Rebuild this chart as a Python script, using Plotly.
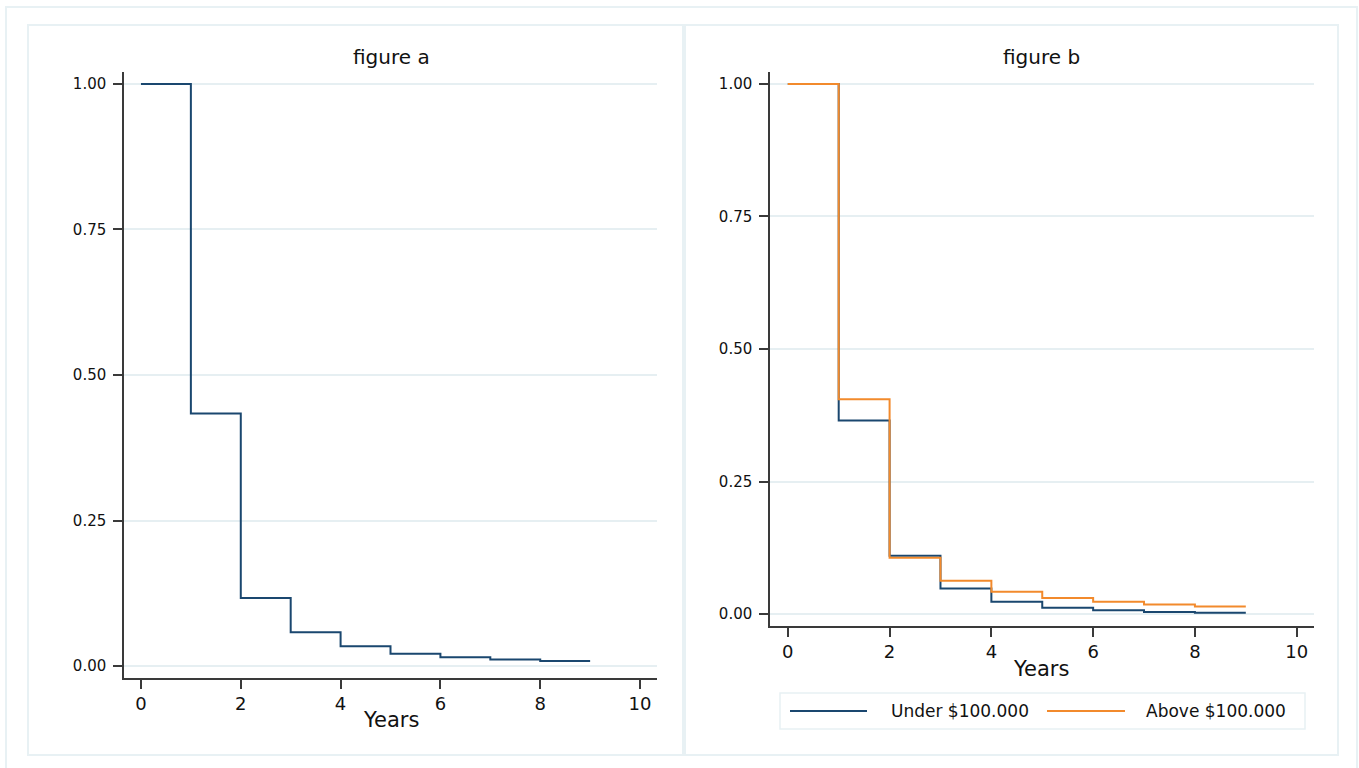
import plotly.graph_objects as go

# ---- data ----
years = [0, 1, 2, 3, 4, 5, 6, 7, 8, 9]
surv_all = [1.00, 0.434, 0.117, 0.058, 0.034, 0.021, 0.015, 0.011, 0.0086, 0.0086]
surv_under = [1.00, 0.365, 0.110, 0.048, 0.023, 0.012, 0.007, 0.004, 0.0025, 0.0025]
surv_above = [1.00, 0.405, 0.106, 0.063, 0.042, 0.030, 0.023, 0.018, 0.014, 0.014]
series_names = ["Under $100.000", "Above $100.000"]
panel_titles = ["figure a", "figure b"]
x_title = "Years"
x_ticks = [0, 2, 4, 6, 8, 10]
y_ticks = [0.0, 0.25, 0.5, 0.75, 1.0]
y_tick_text = ["0.00", "0.25", "0.50", "0.75", "1.00"]

W, H = 1359, 768
NAVY = "#1a476f"
ORANGE = "#f28a2c"
GRID = "#e6eff2"
FRAME = "#e8f1f4"
AXC = "#3a3a3a"
FONT = "DejaVu Sans, Liberation Sans, Arial, sans-serif"
TXT = "#111"


def fx(p):
    return p / W


def fy(p):
    return 1 - p / H


fig = go.Figure()
fig.add_trace(go.Scatter(x=years, y=surv_all, mode="lines", line=dict(color=NAVY, width=2, shape="hv"),
                         xaxis="x", yaxis="y", showlegend=False))
fig.add_trace(go.Scatter(x=years, y=surv_under, mode="lines", line=dict(color=NAVY, width=2, shape="hv"),
                         name=series_names[0], xaxis="x2", yaxis="y2", showlegend=False))
fig.add_trace(go.Scatter(x=years, y=surv_above, mode="lines", line=dict(color=ORANGE, width=2, shape="hv"),
                         name=series_names[1], xaxis="x2", yaxis="y2", showlegend=False))

common_x = dict(showline=True, linecolor=AXC, linewidth=1.5, ticks="outside", ticklen=9, tickcolor=AXC,
                tickwidth=1.5, showgrid=False, zeroline=False, tickvals=x_ticks,
                tickfont=dict(family=FONT, size=18, color=TXT))
common_y = dict(showline=True, linecolor=AXC, linewidth=1.5, ticks="outside", ticklen=9, tickcolor=AXC,
                tickwidth=1.5, showgrid=True, gridcolor=GRID, gridwidth=1.5, zeroline=False,
                tickvals=y_ticks, ticktext=y_tick_text, ticklabelstandoff=4,
                tickfont=dict(family=FONT, size=15, color=TXT))

fig.update_layout(
    width=W, height=H, margin=dict(l=0, r=0, t=0, b=0),
    paper_bgcolor="white", plot_bgcolor="white", showlegend=False,
    xaxis=dict(domain=[fx(124), fx(657)], range=[-0.34, 10.34], anchor="y", **common_x),
    yaxis=dict(domain=[fy(678), fy(72)], range=[-0.0206, 1.0206], anchor="x", **common_y),
    xaxis2=dict(domain=[fx(770), fx(1314)], range=[-0.35, 10.34], anchor="y2", **common_x),
    yaxis2=dict(domain=[fy(626), fy(72)], range=[-0.0226, 1.0226], anchor="x2", **common_y),
)

shapes = [
    # outer frame
    dict(type="rect", xref="paper", yref="paper", x0=fx(6), x1=fx(1357), y0=fy(775), y1=fy(7),
         line=dict(color=FRAME, width=2)),
    # panel frames
    dict(type="rect", xref="paper", yref="paper", x0=fx(28), x1=fx(683), y0=fy(755), y1=fy(25),
         line=dict(color=FRAME, width=2)),
    dict(type="rect", xref="paper", yref="paper", x0=fx(685), x1=fx(1338), y0=fy(755), y1=fy(25),
         line=dict(color=FRAME, width=2)),
    # legend box
    dict(type="rect", xref="paper", yref="paper", x0=fx(780), x1=fx(1305), y0=fy(729), y1=fy(693),
         line=dict(color=FRAME, width=1.5)),
    dict(type="line", xref="paper", yref="paper", x0=fx(790), x1=fx(867), y0=fy(711), y1=fy(711),
         line=dict(color=NAVY, width=2)),
    dict(type="line", xref="paper", yref="paper", x0=fx(1047), x1=fx(1125), y0=fy(711), y1=fy(711),
         line=dict(color=ORANGE, width=2)),
]

annotations = [
    dict(text=panel_titles[0], x=fx(391), y=fy(57), xref="paper", yref="paper", showarrow=False,
         xanchor="center", yanchor="middle", font=dict(family=FONT, size=20, color=TXT)),
    dict(text=panel_titles[1], x=fx(1041), y=fy(57), xref="paper", yref="paper", showarrow=False,
         xanchor="center", yanchor="middle", font=dict(family=FONT, size=20, color=TXT)),
    dict(text=x_title, x=fx(391), y=fy(720), xref="paper", yref="paper", showarrow=False,
         xanchor="center", yanchor="middle", font=dict(family=FONT, size=21, color=TXT)),
    dict(text=x_title, x=fx(1041), y=fy(669), xref="paper", yref="paper", showarrow=False,
         xanchor="center", yanchor="middle", font=dict(family=FONT, size=21, color=TXT)),
    dict(text=series_names[0], x=fx(889), y=fy(711), xref="paper", yref="paper", showarrow=False,
         xanchor="left", yanchor="middle", font=dict(family=FONT, size=17, color=TXT)),
    dict(text=series_names[1], x=fx(1144), y=fy(711), xref="paper", yref="paper", showarrow=False,
         xanchor="left", yanchor="middle", font=dict(family=FONT, size=17, color=TXT)),
]

fig.update_layout(shapes=shapes, annotations=annotations)
fig.write_html("out.html")
